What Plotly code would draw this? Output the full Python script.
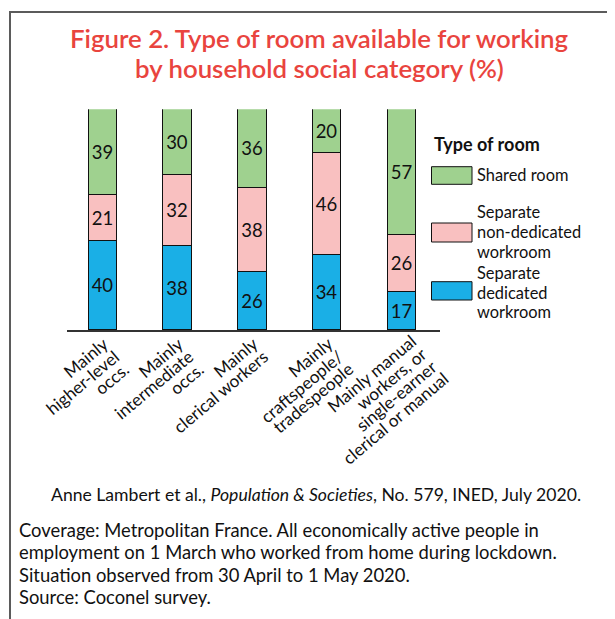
import math
import plotly.graph_objects as go

# ---------------- data ----------------
categories = [
    ["Mainly", "higher-level", "occs."],
    ["Mainly", "intermediate", "occs."],
    ["Mainly", "clerical workers"],
    ["Mainly", "craftspeople/", "tradespeople"],
    ["Mainly manual", "workers, or", "single-earner", "clerical or manual"],
]
dedicated = [40, 38, 26, 34, 17]
non_dedicated = [21, 32, 38, 46, 26]
shared = [39, 30, 36, 20, 57]

series_names = ["Separate dedicated workroom", "Separate non-dedicated workroom", "Shared room"]
series_values = [dedicated, non_dedicated, shared]
series_colors = ["#1aafe6", "#f9c0c0", "#9fd18f"]

legend_title = "Type of room"
legend_lines = {
    "Shared room": ["Shared room"],
    "Separate non-dedicated workroom": ["Separate", "non-dedicated", "workroom"],
    "Separate dedicated workroom": ["Separate", "dedicated", "workroom"],
}

title_lines = ["Figure 2. Type of room available for working",
               "by household social category (%)"]
citation = "Anne Lambert et al., <i>Population &amp; Societies</i>, No. 579, INED, July 2020."
notes = ["Coverage: Metropolitan France. All economically active people in",
         "employment on 1 March who worked from home during lockdown.",
         "Situation observed from 30 April to 1 May 2020.",
         "Source: Coconel survey."]

# ---------------- layout constants (window pixels) ----------------
OFF = 8                      # default page margin of the html body
W, H = 615 - OFF, 619 - OFF
FONT = "Lato"
PX_L, PX_R = 67, 440         # x-axis line extent
PX_TOP, PX_BOT = 109.3, 330  # 100% and 0% levels
XR = [-0.48, 4.51]
INK = "#111111"


def px(x):
    return (x - OFF) / W


def py(y):
    return 1 - (y - OFF) / H


keys = [" ".join(c) for c in categories]

fig = go.Figure()
for name, vals, col in zip(series_names, series_values, series_colors):
    fig.add_trace(go.Bar(
        x=keys, y=vals, name=name,
        marker=dict(color=col, line=dict(color=INK, width=1)),
        width=0.384,
        text=vals, textposition="inside", insidetextanchor="middle",
        textangle=0, constraintext="none",
        textfont=dict(family=FONT, size=18.5, color=INK),
        showlegend=False, hoverinfo="x+y+name",
    ))

annotations = []
shapes = []

# --- rotated category labels, one annotation per line, right aligned ---
ANG = 40.0
th = math.radians(ANG)
TICK_F = 17.2
h = 1.2 * TICK_F
line_sp = 16.6
label_off = [(4.0, 9.5), (4.0, 9.5), (4.0, 9.5), (4.0, 9.5), (13.0, 7.0)]
unit = (PX_R - PX_L) / (XR[1] - XR[0])
for i, lines in enumerate(categories):
    bx = PX_L + (i - XR[0]) * unit
    dx0, dy0 = label_off[i]
    for k, ln in enumerate(lines):
        ex = bx + dx0 + k * line_sp * math.sin(th)
        ey = PX_BOT + dy0 + k * line_sp * math.cos(th)
        X = ex + h / 2 * math.sin(th)
        Y = ey - h / 2 * math.cos(th)
        annotations.append(dict(
            x=i, y=0, xref="x", yref="y", text=ln, showarrow=False,
            xanchor="right", yanchor="top", textangle=-ANG,
            xshift=X - bx, yshift=-(Y - PX_BOT), borderpad=0,
            font=dict(family=FONT, size=TICK_F, color=INK),
        ))

# --- title ---
for ln, yc in zip(title_lines, [38.5, 68]):
    annotations.append(dict(
        x=px(319), y=py(yc), xref="paper", yref="paper", text=ln,
        showarrow=False, xanchor="center", yanchor="middle",
        font=dict(family=FONT, size=25.8, color="#e9443e", weight=600),
    ))

# --- legend (drawn manually) ---
annotations.append(dict(
    x=px(432), y=py(144.5), xref="paper", yref="paper", text="<b>" + legend_title + "</b>",
    showarrow=False, xanchor="left", yanchor="middle",
    font=dict(family=FONT, size=18, color=INK),
))
LEG_F = 16.4
LEG_SP = 19.7
legend_order = ["Shared room", "Separate non-dedicated workroom", "Separate dedicated workroom"]
swatch_y = {"Shared room": (166.7, 184.3),
            "Separate non-dedicated workroom": (223, 242),
            "Separate dedicated workroom": (281.7, 300)}
text_mid = {"Shared room": 174,
            "Separate non-dedicated workroom": 231.5,
            "Separate dedicated workroom": 292}
for name in legend_order:
    col = series_colors[series_names.index(name)]
    y0, y1 = swatch_y[name]
    shapes.append(dict(type="rect", xref="paper", yref="paper",
                       x0=px(431.5), x1=px(472), y0=py(y1), y1=py(y0),
                       fillcolor=col, line=dict(color=INK, width=1)))
    lines = legend_lines[name]
    n = len(lines)
    for k, ln in enumerate(lines):
        yc = text_mid[name] + (k - (n - 1) / 2) * LEG_SP
        annotations.append(dict(
            x=px(476), y=py(yc), xref="paper", yref="paper", text=ln,
            showarrow=False, xanchor="left", yanchor="middle", borderpad=0,
            font=dict(family=FONT, size=LEG_F, color=INK),
        ))

# --- citation and notes ---
annotations.append(dict(
    x=px(316), y=py(494), xref="paper", yref="paper", text=citation,
    showarrow=False, xanchor="center", yanchor="middle",
    font=dict(family=FONT, size=17.6, color=INK),
))
for ln, yc in zip(notes, [529.5, 552, 574.5, 597]):
    annotations.append(dict(
        x=px(17), y=py(yc), xref="paper", yref="paper", text=ln,
        showarrow=False, xanchor="left", yanchor="middle",
        font=dict(family=FONT, size=18.4, color=INK),
    ))

# --- frame ---
shapes.append(dict(type="line", xref="paper", yref="paper",
                   x0=px(10), x1=px(10), y0=py(619), y1=py(11),
                   line=dict(color="#5b5b5b", width=2)))
shapes.append(dict(type="line", xref="paper", yref="paper",
                   x0=px(9), x1=px(615), y0=py(12), y1=py(12),
                   line=dict(color="#5b5b5b", width=2)))

fig.update_layout(
    width=W, height=H, margin=dict(l=0, r=0, t=0, b=0),
    paper_bgcolor="white", plot_bgcolor="white",
    barmode="stack", bargap=0,
    font=dict(family=FONT, color=INK),
    xaxis=dict(domain=[px(PX_L), px(PX_R)], range=XR, type="category",
               showticklabels=False, ticks="", showgrid=False, zeroline=False,
               showline=True, linecolor="#333333", linewidth=1.5, fixedrange=True),
    yaxis=dict(domain=[py(PX_BOT), py(PX_TOP)], range=[0, 100],
               showticklabels=False, ticks="", showgrid=False, zeroline=False,
               showline=False, fixedrange=True),
    annotations=annotations, shapes=shapes, showlegend=False,
)

fig.write_html("out.html")
